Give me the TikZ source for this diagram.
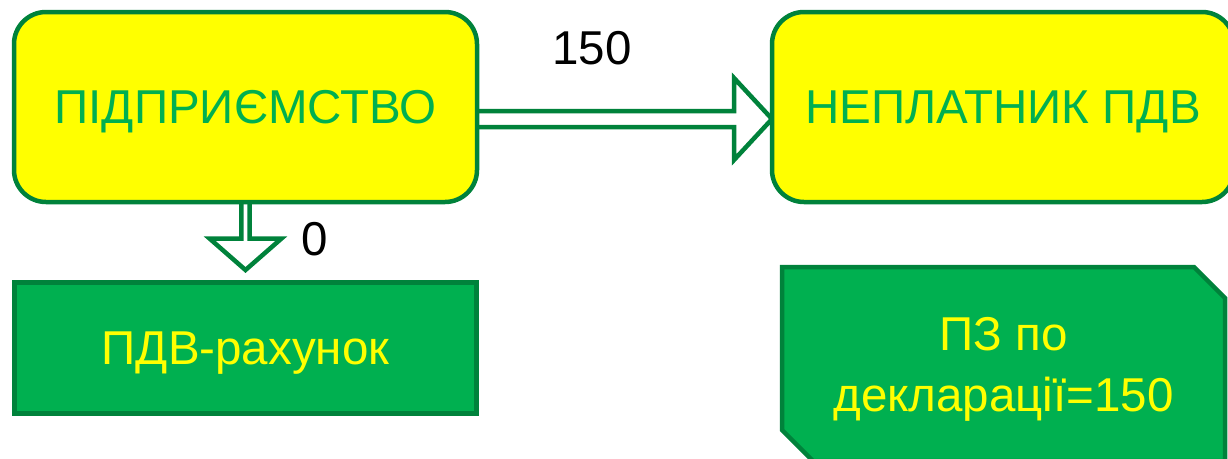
\documentclass[tikz,border=0pt]{standalone}
\usepackage{fontspec}
\setmainfont{Liberation Sans}
\usetikzlibrary{calc,shapes.misc,backgrounds}
\definecolor{ylw}{HTML}{FFFF00}
\definecolor{grn}{HTML}{00B050}
\definecolor{dgrn}{HTML}{00823B}
\begin{document}
\begin{tikzpicture}[x=1pt,y=-1pt,
  font=\fontsize{47.5}{61}\selectfont,
  yb/.style={draw=dgrn, line width=4.5pt, fill=ylw, rounded corners=32pt, text=grn,
    inner sep=0pt, outer sep=0pt, text depth=0pt},
  gb/.style={draw=dgrn, line width=4.5pt, fill=grn, text=ylw,
    inner sep=0pt, outer sep=0pt, text depth=0pt},
  blockarrow/.style={draw=dgrn, line width=4.5pt, fill=white, line join=miter},
  lbl/.style={text=black, inner sep=0pt, text depth=0pt}]
\useasboundingbox (0,0) rectangle (1228,458);
\clip (0,0) rectangle (1228,458);

\node[yb, minimum width=463pt, minimum height=190pt] (p) at (245.5,107) {ПІДПРИЄМСТВО};
\node[yb, minimum width=462pt, minimum height=190pt] (n) at (1003,107) {НЕПЛАТНИК ПДВ};
\node[gb, minimum width=462pt, minimum height=131pt] (b) at (245.5,348) {ПДВ-рахунок};
\node[gb, chamfered rectangle, chamfered rectangle corners={north east,south west},
  chamfered rectangle xsep=15.5pt, chamfered rectangle ysep=15.5pt,
  minimum width=443pt, minimum height=194pt, align=center] (d) at (1003.5,364)
  {ПЗ по\\декларації=150};

\node[lbl] (l150) at (592,47.5) {150};
\node[lbl] (l0) at (315,238.5) {0};

\begin{scope}[on background layer]
  \coordinate (a1) at ($(p.east)+(0,12)$);
  \coordinate (a2) at ($(n.west)+(0,12)$);
  \draw[blockarrow] ($(a1)+(-2,-8)$) -- ($(a2)+(-38,-8)$) -- ($(a2)+(-38,-41)$) -- (a2)
    -- ($(a2)+(-38,41)$) -- ($(a2)+(-38,8)$) -- ($(a1)+(-2,8)$);
  \coordinate (t) at ($(b.north)+(0,-12.5)$);
  \draw[blockarrow] ($(p.south)+(-4.2,-2)$) -- ($(t)+(-4.2,-31.5)$) -- ($(t)+(-36,-31.5)$) -- (t)
    -- ($(t)+(36,-31.5)$) -- ($(t)+(4.2,-31.5)$) -- ($(p.south)+(4.2,-2)$);
\end{scope}
\end{tikzpicture}
\end{document}
